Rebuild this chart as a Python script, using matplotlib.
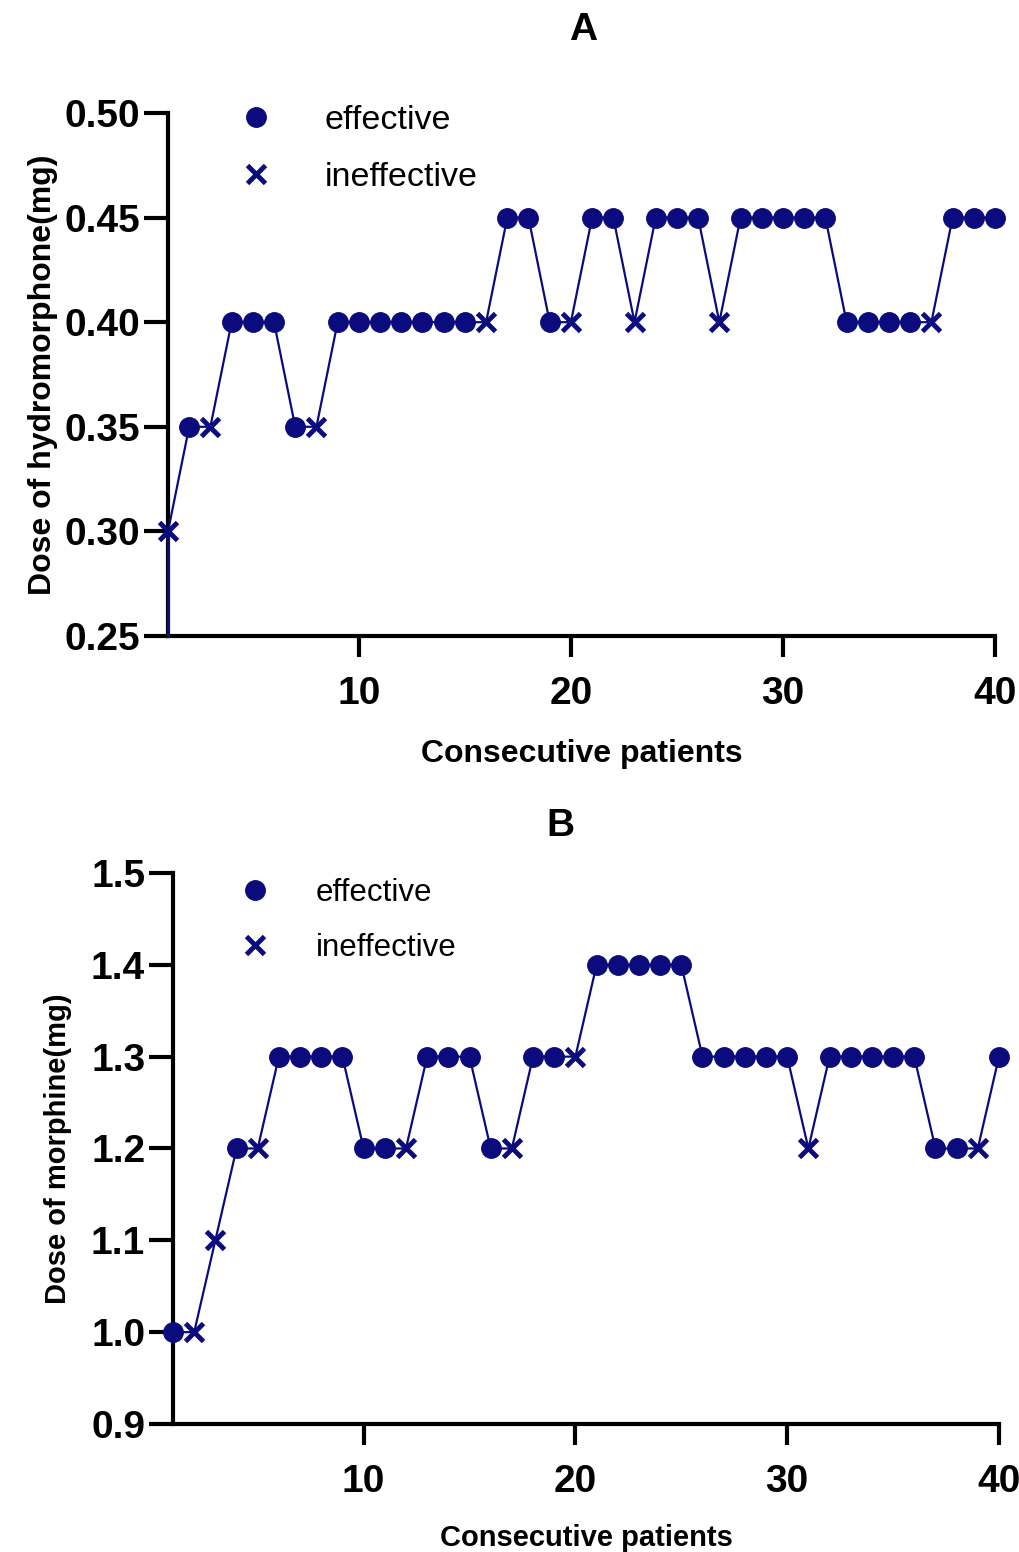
import numpy as np
import matplotlib
matplotlib.use("Agg")
import matplotlib.pyplot as plt
from matplotlib.lines import Line2D
from matplotlib.ticker import FormatStrFormatter

plt.rcParams['font.family'] = ['Liberation Sans', 'DejaVu Sans']

# patient number 1..40
patients = list(range(1, 41))

# panel A: hydromorphone dose, 1 = effective, 0 = ineffective
hydro_dose = [0.30, 0.35, 0.35, 0.40, 0.40, 0.40, 0.35, 0.35, 0.40, 0.40,
              0.40, 0.40, 0.40, 0.40, 0.40, 0.40, 0.45, 0.45, 0.40, 0.40,
              0.45, 0.45, 0.40, 0.45, 0.45, 0.45, 0.40, 0.45, 0.45, 0.45,
              0.45, 0.45, 0.40, 0.40, 0.40, 0.40, 0.40, 0.45, 0.45, 0.45]
hydro_eff = [0, 1, 0, 1, 1, 1, 1, 0, 1, 1,
             1, 1, 1, 1, 1, 0, 1, 1, 1, 0,
             1, 1, 0, 1, 1, 1, 0, 1, 1, 1,
             1, 1, 1, 1, 1, 1, 0, 1, 1, 1]

# panel B: morphine dose
morph_dose = [1.0, 1.0, 1.1, 1.2, 1.2, 1.3, 1.3, 1.3, 1.3, 1.2,
              1.2, 1.2, 1.3, 1.3, 1.3, 1.2, 1.2, 1.3, 1.3, 1.3,
              1.4, 1.4, 1.4, 1.4, 1.4, 1.3, 1.3, 1.3, 1.3, 1.3,
              1.2, 1.3, 1.3, 1.3, 1.3, 1.3, 1.2, 1.2, 1.2, 1.3]
morph_eff = [1, 0, 0, 1, 0, 1, 1, 1, 1, 1,
             1, 0, 1, 1, 1, 1, 0, 1, 1, 0,
             1, 1, 1, 1, 1, 1, 1, 1, 1, 1,
             0, 1, 1, 1, 1, 1, 1, 1, 0, 1]

NAVY = '#0b0b7d'


def draw_panel(ax, x, dose, eff, ylim, yticks, fmt, ylabel, ylab_size, ylabelpad,
               xlab_size, xlabelpad, leg_anchor, leg_size, leg_len, leg_pad,
               leg_space, lead_in=False):
    x = np.array(x)
    dose = np.array(dose)
    eff = np.array(eff).astype(bool)

    if lead_in:
        # the line in the original runs down the y axis from the first point
        ax.plot([x[0], x[0]], [ylim[0], dose[0]], color=NAVY, lw=2.2,
                zorder=4, clip_on=False)
    ax.plot(x, dose, color=NAVY, lw=1.6, zorder=3, clip_on=False)
    ax.plot(x[eff], dose[eff], 'o', color=NAVY, ms=14, ls='none', zorder=5,
            clip_on=False)
    ax.plot(x[~eff], dose[~eff], 'x', color=NAVY, ms=13, mew=3.5, ls='none',
            zorder=5, clip_on=False)

    ax.set_xlim(1, 40)
    ax.set_ylim(*ylim)
    ax.set_xticks([10, 20, 30, 40])
    ax.set_yticks(yticks)
    ax.yaxis.set_major_formatter(FormatStrFormatter(fmt))

    for s in ['top', 'right']:
        ax.spines[s].set_visible(False)
    for s in ['left', 'bottom']:
        ax.spines[s].set_linewidth(3)
    ax.tick_params(axis='y', length=17, width=3, pad=3, labelsize=28)
    ax.tick_params(axis='x', length=15, width=3, pad=14, labelsize=28)
    for lab in ax.get_xticklabels() + ax.get_yticklabels():
        lab.set_fontweight('bold')

    ax.set_xlabel('Consecutive patients', fontsize=xlab_size, fontweight='bold',
                  labelpad=xlabelpad)
    ax.set_ylabel(ylabel, fontsize=ylab_size, fontweight='bold', labelpad=ylabelpad)

    handles = [
        Line2D([], [], marker='o', color=NAVY, ls='none', ms=14),
        Line2D([], [], marker='x', color=NAVY, ls='none', ms=13, mew=3.5),
    ]
    ax.legend(handles, ['effective', 'ineffective'], loc='upper left',
              bbox_to_anchor=leg_anchor, frameon=False, fontsize=leg_size,
              handlelength=leg_len, handletextpad=leg_pad, labelspacing=leg_space,
              borderpad=0, borderaxespad=0)


fig = plt.figure(figsize=(10.2, 15.52), dpi=100)

axA = fig.add_axes([0.1647, 0.5902, 0.8108, 0.3370])
draw_panel(axA, patients, hydro_dose, hydro_eff, (0.25, 0.50),
           [0.25, 0.30, 0.35, 0.40, 0.45, 0.50], '%.2f',
           'Dose of hydromorphone(mg)', 23, 5, 23, 19,
           (0.088, 1.015), 24.5, 0.88, 1.59, 0.76, lead_in=True)

axB = fig.add_axes([0.1696, 0.0825, 0.8098, 0.3550])
draw_panel(axB, patients, morph_dose, morph_eff, (0.9, 1.5),
           [0.9, 1.0, 1.1, 1.2, 1.3, 1.4, 1.5], '%.1f',
           'Dose of morphine(mg)', 21, 14, 21, 17,
           (0.081, 0.991), 22.5, 0.96, 1.47, 0.8)

fig.text(0.5716, 1 - 30 / 1552, 'A', ha='center', va='center', fontsize=28, fontweight='bold')
fig.text(0.549, 1 - 826 / 1552, 'B', ha='center', va='center', fontsize=28, fontweight='bold')

fig.savefig('out.png', dpi=100)
